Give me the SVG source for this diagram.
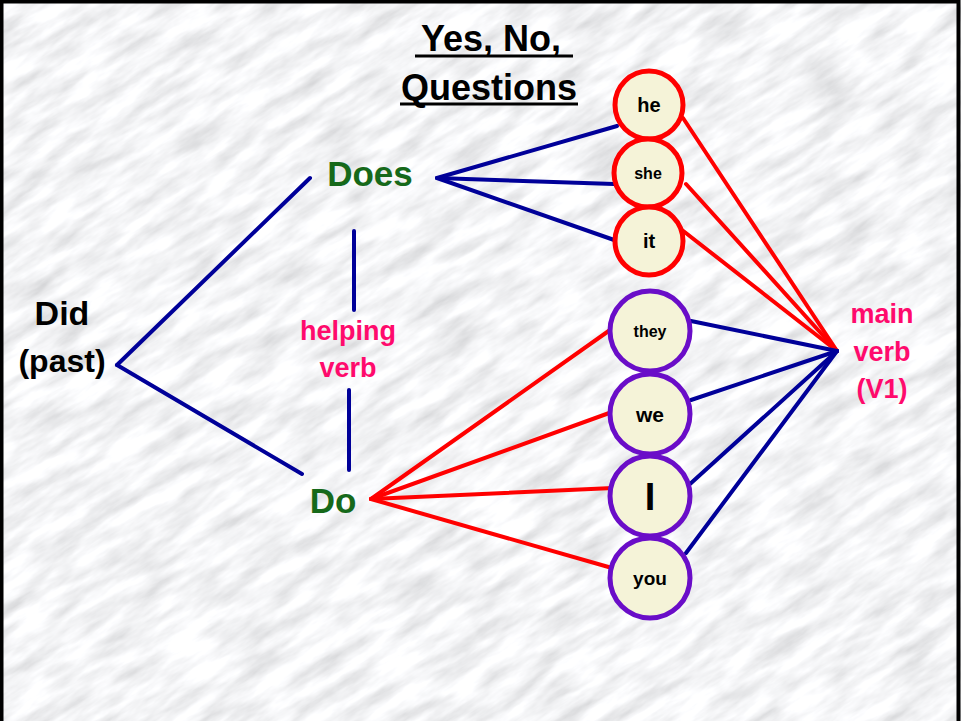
<svg xmlns="http://www.w3.org/2000/svg" width="961" height="721" viewBox="0 0 961 721">
<defs>
<filter id="marble" x="-400" y="-400" width="1800" height="1600" filterUnits="userSpaceOnUse">
<feTurbulence type="fractalNoise" baseFrequency="0.018 0.07" numOctaves="5" seed="11"/>
<feColorMatrix type="matrix" values="0.55 0 0 0 0.63  0.55 0 0 0 0.635  0.55 0 0 0 0.65  0 0 0 0 1"/>
</filter>
<clipPath id="pg"><rect x="0" y="0" width="961" height="721"/></clipPath>
<style>
.nv{stroke:#000099;stroke-width:4;fill:none;stroke-linecap:round}
.rd{stroke:#ff0000;stroke-width:4;fill:none;stroke-linecap:round}
.cr{fill:#f5f3d8;stroke:#ff0000;stroke-width:5}
.cp{fill:#f5f3d8;stroke:#6a0dc8;stroke-width:5}
text{font-family:"Liberation Sans",Arial,sans-serif;font-weight:bold;text-anchor:middle}
.g{fill:#16691a}
.p{fill:#ff0a6c}
.k{fill:#000}
</style>
</defs>
<g clip-path="url(#pg)">
<rect x="0" y="0" width="961" height="721" fill="#e2e3e7"/>
<g transform="rotate(-32 480 360)">
<rect x="-400" y="-400" width="1800" height="1600" filter="url(#marble)"/>
</g>
</g>
<path d="M1.5 721 V1.5 H958.5 V721" fill="none" stroke="#000" stroke-width="4"/>

<g id="title">
<text x="491" y="51" font-size="36" class="k">Yes, No,</text>
<line x1="415" y1="56" x2="573" y2="56" stroke="#000" stroke-width="3"/>
<text x="489" y="100" font-size="36" class="k">Questions</text>
<line x1="400" y1="104" x2="578" y2="104" stroke="#000" stroke-width="3"/>
</g>

<g id="connectors">
<line class="nv" x1="117" y1="365" x2="310" y2="178"/>
<line class="nv" x1="117" y1="365" x2="302" y2="474"/>
<line class="nv" x1="354" y1="231" x2="354" y2="310"/>
<line class="nv" x1="349" y1="390" x2="349" y2="470"/>
<line class="nv" x1="437" y1="178" x2="617" y2="126"/>
<line class="nv" x1="437" y1="178" x2="614" y2="184"/>
<line class="nv" x1="437" y1="178" x2="617" y2="241"/>
<line class="rd" x1="371" y1="499" x2="610" y2="330"/>
<line class="rd" x1="371" y1="499" x2="612" y2="412"/>
<line class="rd" x1="371" y1="499" x2="613" y2="488"/>
<line class="rd" x1="371" y1="499" x2="612" y2="568"/>
<line class="rd" x1="683" y1="118" x2="837" y2="351"/>
<line class="rd" x1="686" y1="184" x2="837" y2="351"/>
<line class="rd" x1="682" y1="230" x2="837" y2="351"/>
<line class="nv" x1="691" y1="321" x2="837" y2="351"/>
<line class="nv" x1="691" y1="400" x2="837" y2="351"/>
<line class="nv" x1="690" y1="484" x2="837" y2="351"/>
<line class="nv" x1="686" y1="553" x2="837" y2="351"/>
</g>

<g id="did"><text x="62" y="325" font-size="34" class="k">Did</text><text x="62" y="372" font-size="32" class="k">(past)</text></g>
<g id="does"><text x="370" y="186" font-size="35" class="g">Does</text></g>
<g id="do"><text x="333" y="513" font-size="35" class="g">Do</text></g>
<g id="helping"><text x="348" y="340" font-size="27" class="p">helping</text><text x="348" y="377" font-size="27" class="p">verb</text></g>
<g id="mainverb"><text x="882" y="323" font-size="27" class="p">main</text><text x="882" y="361" font-size="27" class="p">verb</text><text x="882" y="398" font-size="27" class="p">(V1)</text></g>

<g id="he"><circle class="cr" cx="649" cy="105" r="34"/><text x="649" y="112" font-size="20" class="k">he</text></g>
<g id="she"><circle class="cr" cx="648" cy="173" r="34"/><text x="648" y="179" font-size="16" class="k">she</text></g>
<g id="it"><circle class="cr" cx="649" cy="241" r="34"/><text x="649" y="248" font-size="20" class="k">it</text></g>
<g id="they"><circle class="cp" cx="650" cy="331" r="40"/><text x="650" y="337" font-size="16" class="k">they</text></g>
<g id="we"><circle class="cp" cx="650" cy="414" r="40"/><text x="650" y="422" font-size="21" class="k">we</text></g>
<g id="I"><circle class="cp" cx="650" cy="496" r="40"/><text x="650" y="510" font-size="38" class="k">I</text></g>
<g id="you"><circle class="cp" cx="650" cy="578" r="40"/><text x="650" y="585" font-size="19" class="k">you</text></g>
</svg>
